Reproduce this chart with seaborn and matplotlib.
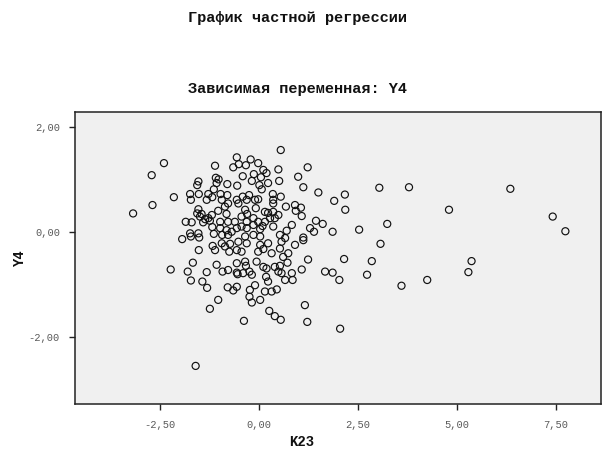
import matplotlib
matplotlib.use("Agg")
import matplotlib.pyplot as plt
import seaborn as sns
import pandas as pd
from matplotlib.ticker import FixedLocator, FuncFormatter

title_main = "График частной регрессии"
title_sub = "Зависимая переменная: Y4"
x_label = "K23"
y_label = "Y4"

x_ticks = [-2.5, 0.0, 2.5, 5.0, 7.5]
y_ticks = [-2.0, 0.0, 2.0]

k23 = [
    -2.40, -2.71, -2.69, -2.15, -1.11, -0.65, -0.56, -0.51, -1.53, -1.56,
    -1.09, -1.02, -1.07, -0.80, -0.55, -1.74, -1.72, -1.52, -1.28, -1.32,
    -1.18, -1.14, -0.97, -0.94, -0.80, -0.78, -0.56, -0.52, -0.86, -0.82,
    -1.03, -1.19, -1.53, -1.56, -1.49, -1.45, -1.36, -1.28, -1.24, -1.41,
    -1.85, -1.70, -0.98, -0.78, -0.61, -1.18, -0.98, -0.82, -0.69, -0.56,
    -1.74, -1.53, -1.51, -1.72, -1.94, -1.14, -0.93, -0.78,
    0.55, -0.21, -0.33, -0.02, 0.49, 1.23, -0.41, -0.13, 0.11, 0.19,
    0.05, -0.18, 0.01, 0.07, 0.23, 0.51, 0.99, 1.12, 1.50, 1.90,
    -0.25, 0.35, 0.36, 0.55, 0.36, -0.41, -0.31, -0.10, -0.02, -0.08,
    -0.35, -0.30, -0.44, -0.14, 0.15, 0.23, 0.36, 0.49, 0.40, 0.28,
    0.68, 0.91, 1.06, 0.93, 1.08, 1.44, 1.61, 0.83, 0.70, 1.29,
    1.39, 1.86, -0.31, -0.14, -0.02, 0.09, 0.15, 0.36, -0.44, -0.31,
    0.03, -0.14, -0.35, 0.03, 0.53, 0.66, 1.12,
    -1.52, -1.17, -1.11, -0.94, -0.86, -0.73, -0.75, -0.56, -0.52, -2.23,
    -1.67, -1.80, -1.72, -1.32, -1.43, -1.31, -1.07, -0.92, -0.78, -0.56,
    -0.56, -0.54, -0.79, -0.65, -0.56, -1.03, -1.24,
    -0.31, -0.44, -0.35, -0.33, -0.40, -0.24, -0.18, -0.10, -0.23, -0.24,
    -0.18, 0.03, 0.03, 0.23, -0.02, 0.11, 0.32, 0.57, 0.53, 0.74,
    0.91, 1.12, 1.24, 0.72, 0.61, -0.06, 0.11, 0.19, 0.18, 0.23,
    0.15, 0.32, 0.45, 0.40, 0.53, 0.49, 0.57, 0.66, 0.83, 0.85,
    1.08, 1.67, 1.86, 2.03, 1.16, 0.26, 0.40, 0.55, 1.22, -0.38,
    2.05,
    -3.18, -1.60, 3.04, 3.79, 6.35, 2.17, 2.18, 4.80, 7.42, 7.74,
    2.53, 3.24, 3.07, 2.15, 2.85, 5.37, 2.73, 3.60, 4.25, 5.29,
]

y4 = [
    1.32, 1.09, 0.52, 0.67, 1.27, 1.24, 1.43, 1.30, 0.97, 0.90,
    1.04, 1.01, 0.94, 0.92, 0.89, 0.73, 0.62, 0.73, 0.73, 0.62,
    0.67, 0.82, 0.73, 0.62, 0.71, 0.55, 0.62, 0.55, 0.49, 0.35,
    0.41, 0.33, 0.44, 0.36, 0.30, 0.35, 0.25, 0.27, 0.22, 0.19,
    0.20, 0.19, 0.20, 0.20, 0.20, 0.10, 0.08, 0.04, 0.01, 0.08,
    -0.02, -0.02, -0.10, -0.08, -0.13, -0.03, -0.05, -0.05,
    1.57, 1.39, 1.28, 1.32, 1.20, 1.24, 1.07, 1.11, 1.19, 1.13,
    1.05, 0.98, 0.90, 0.82, 0.94, 0.98, 1.06, 0.86, 0.76, 0.60,
    0.71, 0.73, 0.62, 0.68, 0.55, 0.68, 0.62, 0.62, 0.63, 0.46,
    0.43, 0.35, 0.30, 0.27, 0.39, 0.37, 0.39, 0.33, 0.27, 0.27,
    0.49, 0.52, 0.47, 0.41, 0.31, 0.22, 0.16, 0.14, 0.03, 0.08,
    0.01, 0.01, 0.20, 0.14, 0.20, 0.12, 0.20, 0.11, 0.11, 0.08,
    0.06, -0.05, -0.08, -0.08, -0.05, -0.11, -0.10,
    -0.34, -0.26, -0.34, -0.21, -0.27, -0.22, -0.37, -0.34, -0.18, -0.71,
    -0.58, -0.75, -0.92, -0.76, -0.94, -1.06, -0.62, -0.75, -0.72, -0.59,
    -0.77, -0.80, -1.05, -1.11, -1.04, -1.29, -1.46,
    -0.21, -0.37, -0.56, -0.64, -0.78, -0.75, -0.81, -1.01, -1.10, -1.23,
    -1.34, -1.29, -0.24, -0.21, -0.37, -0.32, -0.40, -0.18, -0.31, -0.40,
    -0.24, -0.15, -0.52, -0.58, -0.47, -0.56, -0.66, -0.69, -0.85, -0.94,
    -1.13, -1.13, -1.09, -0.66, -0.64, -0.75, -0.78, -0.91, -0.78, -0.91,
    -0.71, -0.75, -0.77, -0.91, -1.39, -1.50, -1.60, -1.67, -1.71, -1.69,
    -1.84,
    0.36, -2.55, 0.85, 0.86, 0.83, 0.72, 0.43, 0.43, 0.30, 0.02,
    0.05, 0.16, -0.22, -0.51, -0.55, -0.55, -0.81, -1.02, -0.91, -0.76,
]

df = pd.DataFrame({"K23": k23, "Y4": y4})

sns.set_style("white")
plt.rcParams["font.family"] = ["Liberation Mono", "DejaVu Sans Mono"]

fig = plt.figure(figsize=(6.03, 4.5), dpi=100)
fig.patch.set_facecolor("white")
ax = fig.add_axes([74.5 / 603, 1 - 404 / 450, (601 - 74.5) / 603, (404 - 112.3) / 450])
ax.set_facecolor("#F0F0F0")

sns.scatterplot(data=df, x="K23", y="Y4", ax=ax, marker="o", s=26,
                facecolor="none", edgecolor="#111111", linewidth=0.85)

ax.set_xlim(-4.66, 8.64)
ax.set_ylim(-3.277, 2.29)

fmt = FuncFormatter(lambda v, p: f"{v:.2f}".replace(".", ","))
ax.xaxis.set_major_locator(FixedLocator(x_ticks))
ax.yaxis.set_major_locator(FixedLocator(y_ticks))
ax.xaxis.set_major_formatter(fmt)
ax.yaxis.set_major_formatter(fmt)
ax.tick_params(axis="both", which="major", direction="out", length=4.5, width=1.0,
               color="#222222", labelsize=7.5, labelcolor="#5a5a5a", pad=6,
               bottom=True, left=True)
ax.tick_params(axis="x", pad=7)

for sp in ax.spines.values():
    sp.set_color("#222222")
    sp.set_linewidth(1.1)

ax.set_xlabel(x_label, fontsize=10, fontweight="bold", color="#111111")
ax.set_ylabel(y_label, fontsize=10, fontweight="bold", color="#111111")
ax.xaxis.set_label_coords((302 - 74.5) / 526.5, -0.105)
ax.yaxis.set_label_coords((27 - 74.5) / 526.5, 0.5)

fig.text(298 / 603, 1 - 18 / 450, title_main, ha="center", va="center",
         fontsize=11, fontweight="bold", color="#111111")
fig.text(298 / 603, 1 - 89 / 450, title_sub, ha="center", va="center",
         fontsize=11, fontweight="bold", color="#111111")

fig.savefig("out.png", dpi=100)
